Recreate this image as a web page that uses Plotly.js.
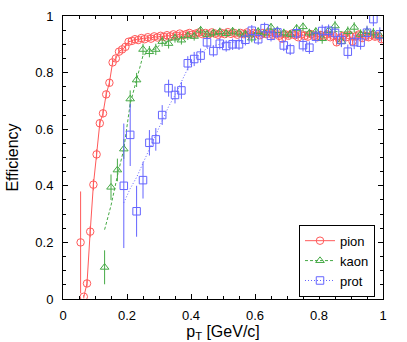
<!DOCTYPE html>
<html>
<head>
<meta charset="utf-8">
<script src="https://cdn.plot.ly/plotly-3.0.1.min.js"></script>
<style>
  html, body { margin: 0; padding: 0; background: #fff; }
  #plot { width: 407px; height: 342px; }
</style>
</head>
<body>
<div id="plot"></div>
<script>
// efficiency vs pT
var pionX = [0.055, 0.065, 0.075, 0.085, 0.095, 0.105, 0.115, 0.125, 0.135, 0.145,
  0.155, 0.165, 0.175, 0.185, 0.195, 0.205, 0.215, 0.225, 0.235, 0.245,
  0.255, 0.265, 0.275, 0.285, 0.295, 0.305, 0.315, 0.325, 0.335, 0.345,
  0.355, 0.365, 0.375, 0.385, 0.395, 0.405, 0.415, 0.425, 0.435, 0.445,
  0.455, 0.465, 0.475, 0.485, 0.495, 0.505, 0.515, 0.525, 0.535, 0.545,
  0.555, 0.565, 0.575, 0.585, 0.595, 0.605, 0.615, 0.625, 0.635, 0.645,
  0.655, 0.665, 0.675, 0.685, 0.695, 0.705, 0.715, 0.725, 0.735, 0.745,
  0.755, 0.765, 0.775, 0.785, 0.795, 0.805, 0.815, 0.825, 0.835, 0.845,
  0.855, 0.865, 0.875, 0.885, 0.895, 0.905, 0.915, 0.925, 0.935, 0.945,
  0.955, 0.965, 0.975, 0.985, 0.995];
var pionY = [0.200, 0.008, 0.055, 0.238, 0.404, 0.511, 0.621, 0.656, 0.723, 0.764,
  0.836, 0.850, 0.874, 0.882, 0.891, 0.909, 0.912, 0.918, 0.915, 0.922,
  0.918, 0.925, 0.920, 0.928, 0.924, 0.930, 0.926, 0.932, 0.928, 0.935,
  0.930, 0.938, 0.932, 0.936, 0.940, 0.934, 0.938, 0.942, 0.936, 0.940,
  0.935, 0.942, 0.938, 0.934, 0.940, 0.936, 0.943, 0.937, 0.940, 0.934,
  0.940, 0.936, 0.942, 0.935, 0.940, 0.938, 0.932, 0.940, 0.936, 0.943,
  0.934, 0.938, 0.930, 0.920, 0.935, 0.930, 0.938, 0.932, 0.925, 0.935,
  0.930, 0.927, 0.936, 0.930, 0.925, 0.933, 0.928, 0.935, 0.925, 0.930,
  0.907, 0.922, 0.930, 0.925, 0.932, 0.910, 0.928, 0.935, 0.922, 0.930,
  0.925, 0.933, 0.927, 0.930, 0.918];
var pionErr = [0.180, 0.006, 0.012, 0.020, 0.020, 0.018, 0.015, 0.014, 0.012, 0.012,
  0.010, 0.010, 0.010, 0.010, 0.010, 0.008, 0.008, 0.008, 0.008, 0.008,
  0.008, 0.008, 0.008, 0.008, 0.008, 0.008, 0.008, 0.008, 0.008, 0.008,
  0.008, 0.008, 0.008, 0.008, 0.008, 0.008, 0.008, 0.008, 0.008, 0.008,
  0.008, 0.008, 0.008, 0.008, 0.008, 0.008, 0.008, 0.008, 0.008, 0.008,
  0.008, 0.008, 0.008, 0.008, 0.008, 0.008, 0.008, 0.008, 0.008, 0.008,
  0.010, 0.010, 0.010, 0.010, 0.010, 0.010, 0.010, 0.010, 0.010, 0.010,
  0.010, 0.010, 0.010, 0.010, 0.010, 0.010, 0.010, 0.010, 0.010, 0.010,
  0.012, 0.012, 0.012, 0.012, 0.012, 0.012, 0.012, 0.012, 0.012, 0.012,
  0.012, 0.012, 0.012, 0.012, 0.012];

var kaonX = [0.13, 0.15, 0.17, 0.19, 0.21, 0.23, 0.25, 0.27, 0.29, 0.31,
  0.33, 0.35, 0.37, 0.39, 0.41, 0.43, 0.45, 0.47, 0.49, 0.51,
  0.53, 0.55, 0.57, 0.59, 0.61, 0.63, 0.65, 0.67, 0.69, 0.71,
  0.73, 0.75, 0.77, 0.79, 0.81, 0.83, 0.85, 0.87, 0.89, 0.91,
  0.93, 0.95, 0.97, 0.99];
var kaonY = [0.112, 0.395, 0.456, 0.530, 0.707, 0.774, 0.882, 0.874, 0.882, 0.910,
  0.903, 0.922, 0.915, 0.930, 0.928, 0.950, 0.935, 0.940, 0.944, 0.938,
  0.946, 0.940, 0.935, 0.922, 0.945, 0.940, 0.960, 0.948, 0.940, 0.935,
  0.956, 0.962, 0.940, 0.945, 0.920, 0.948, 0.965, 0.910, 0.945, 0.960,
  0.935, 0.945, 0.940, 0.930];
var kaonErr = [0.060, 0.045, 0.040, 0.035, 0.030, 0.025, 0.020, 0.020, 0.020, 0.018,
  0.018, 0.016, 0.016, 0.015, 0.015, 0.015, 0.015, 0.015, 0.015, 0.015,
  0.015, 0.015, 0.015, 0.015, 0.015, 0.015, 0.015, 0.015, 0.015, 0.015,
  0.015, 0.015, 0.015, 0.015, 0.018, 0.018, 0.018, 0.018, 0.018, 0.018,
  0.018, 0.018, 0.018, 0.018];

var protX = [0.19, 0.21, 0.23, 0.25, 0.27, 0.29, 0.31, 0.33, 0.35, 0.37,
  0.39, 0.41, 0.43, 0.45, 0.47, 0.49, 0.51, 0.53, 0.55, 0.57,
  0.59, 0.61, 0.63, 0.65, 0.67, 0.69, 0.71, 0.73, 0.75, 0.77,
  0.79, 0.81, 0.83, 0.85, 0.87, 0.89, 0.91, 0.93, 0.95, 0.97,
  0.99];
var protY = [0.400, 0.580, 0.310, 0.420, 0.552, 0.564, 0.650, 0.745, 0.721, 0.737,
  0.833, 0.848, 0.860, 0.907, 0.876, 0.902, 0.894, 0.900, 0.900, 0.916,
  0.948, 0.918, 0.957, 0.930, 0.942, 0.896, 0.882, 0.939, 0.897, 0.888,
  0.927, 0.947, 0.948, 0.940, 0.915, 0.874, 0.908, 0.906, 0.941, 0.989,
  0.935];
var protErr = [0.220, 0.110, 0.090, 0.065, 0.045, 0.040, 0.035, 0.030, 0.030, 0.030,
  0.025, 0.025, 0.025, 0.020, 0.020, 0.020, 0.020, 0.020, 0.020, 0.020,
  0.020, 0.020, 0.020, 0.020, 0.020, 0.020, 0.020, 0.020, 0.022, 0.022,
  0.022, 0.022, 0.022, 0.022, 0.025, 0.025, 0.025, 0.025, 0.025, 0.025,
  0.025];

// curves drawn through the points
var pionLineX = pionX.slice(1);
var pionLineY = pionY.slice(1);
var kaonLineX = [0.13, 0.15, 0.17, 0.19, 0.21, 0.23, 0.25, 0.27, 0.29, 0.31, 0.33, 0.35, 0.39, 0.45, 0.55, 0.70, 0.85, 0.99];
var kaonLineY = [0.245, 0.330, 0.435, 0.530, 0.690, 0.774, 0.860, 0.875, 0.885, 0.905, 0.910, 0.920, 0.928, 0.935, 0.940, 0.943, 0.945, 0.940];
var protLineX = [0.19, 0.21, 0.23, 0.25, 0.27, 0.29, 0.31, 0.33, 0.35, 0.37, 0.39, 0.41, 0.43, 0.45, 0.47, 0.51, 0.55, 0.59, 0.63, 0.71, 0.85, 0.99];
var protLineY = [0.340, 0.390, 0.430, 0.480, 0.530, 0.580, 0.630, 0.680, 0.720, 0.770, 0.815, 0.845, 0.870, 0.885, 0.895, 0.905, 0.910, 0.918, 0.925, 0.930, 0.933, 0.935];

var names = ["pion", "kaon", "prot"];
var colors = ["rgb(255,90,90)", "rgb(70,170,70)", "rgb(100,100,255)"];
var dashes = ["solid", "3px,2px", "1px,2px"];
var symbols = ["circle-open", "triangle-up-open", "square-open"];

// put a gap after every point so the points trace only shows line+marker in the legend
function gapped(a) {
  var out = [];
  a.forEach(function (v) { out.push(v, null); });
  return out;
}

var sets = [
  [pionX, pionY, pionErr, pionLineX, pionLineY],
  [kaonX, kaonY, kaonErr, kaonLineX, kaonLineY],
  [protX, protY, protErr, protLineX, protLineY]
];

var data = [];
sets.forEach(function (s, i) {
  data.push({
    x: s[3], y: s[4], type: "scatter", mode: "lines",
    line: { color: colors[i], width: 1, dash: dashes[i] },
    showlegend: false, hoverinfo: "skip"
  });
});
sets.forEach(function (s, i) {
  data.push({
    x: gapped(s[0]), y: gapped(s[1]), type: "scatter", mode: "lines+markers",
    name: names[i], connectgaps: false,
    line: { color: colors[i], width: 1, dash: dashes[i] },
    marker: { symbol: symbols[i], size: 7.5, color: colors[i], line: { width: 1, color: colors[i] } },
    error_y: { type: "data", array: gapped(s[2]), visible: true, color: colors[i], thickness: 1, width: 0 }
  });
});

var axisBase = {
  range: [0, 1], dtick: 0.2, ticks: "inside", ticklen: 5, tickcolor: "#000",
  minor: { dtick: 0.05, ticks: "inside", ticklen: 3, tickcolor: "#000" },
  showline: true, linecolor: "#000", linewidth: 1, mirror: "allticks",
  showgrid: false, zeroline: false,
  tickfont: { family: "Liberation Sans, Arial, sans-serif", size: 13, color: "#000" }
};

var layout = {
  width: 407, height: 342,
  margin: { l: 63, r: 24, t: 16, b: 43 },
  paper_bgcolor: "#fff", plot_bgcolor: "#fff",
  font: { family: "Liberation Sans, Arial, sans-serif", size: 13, color: "#000" },
  xaxis: Object.assign({}, axisBase, {
    title: { text: "p<sub>T</sub> [GeV/c]", standoff: 6 },
    ticklabelstandoff: 4
  }),
  yaxis: Object.assign({}, axisBase, {
    title: { text: "Efficiency", standoff: 12 },
    ticklabelstandoff: 6
  }),
  legend: {
    x: 0.975, xanchor: "right", y: 0.008, yanchor: "bottom",
    bgcolor: "#fff", bordercolor: "#000", borderwidth: 1,
    font: { size: 13 }, itemwidth: 30, tracegroupgap: 0
  },
  showlegend: true
};

Plotly.newPlot("plot", data, layout, { staticPlot: true });
</script>
</body>
</html>
